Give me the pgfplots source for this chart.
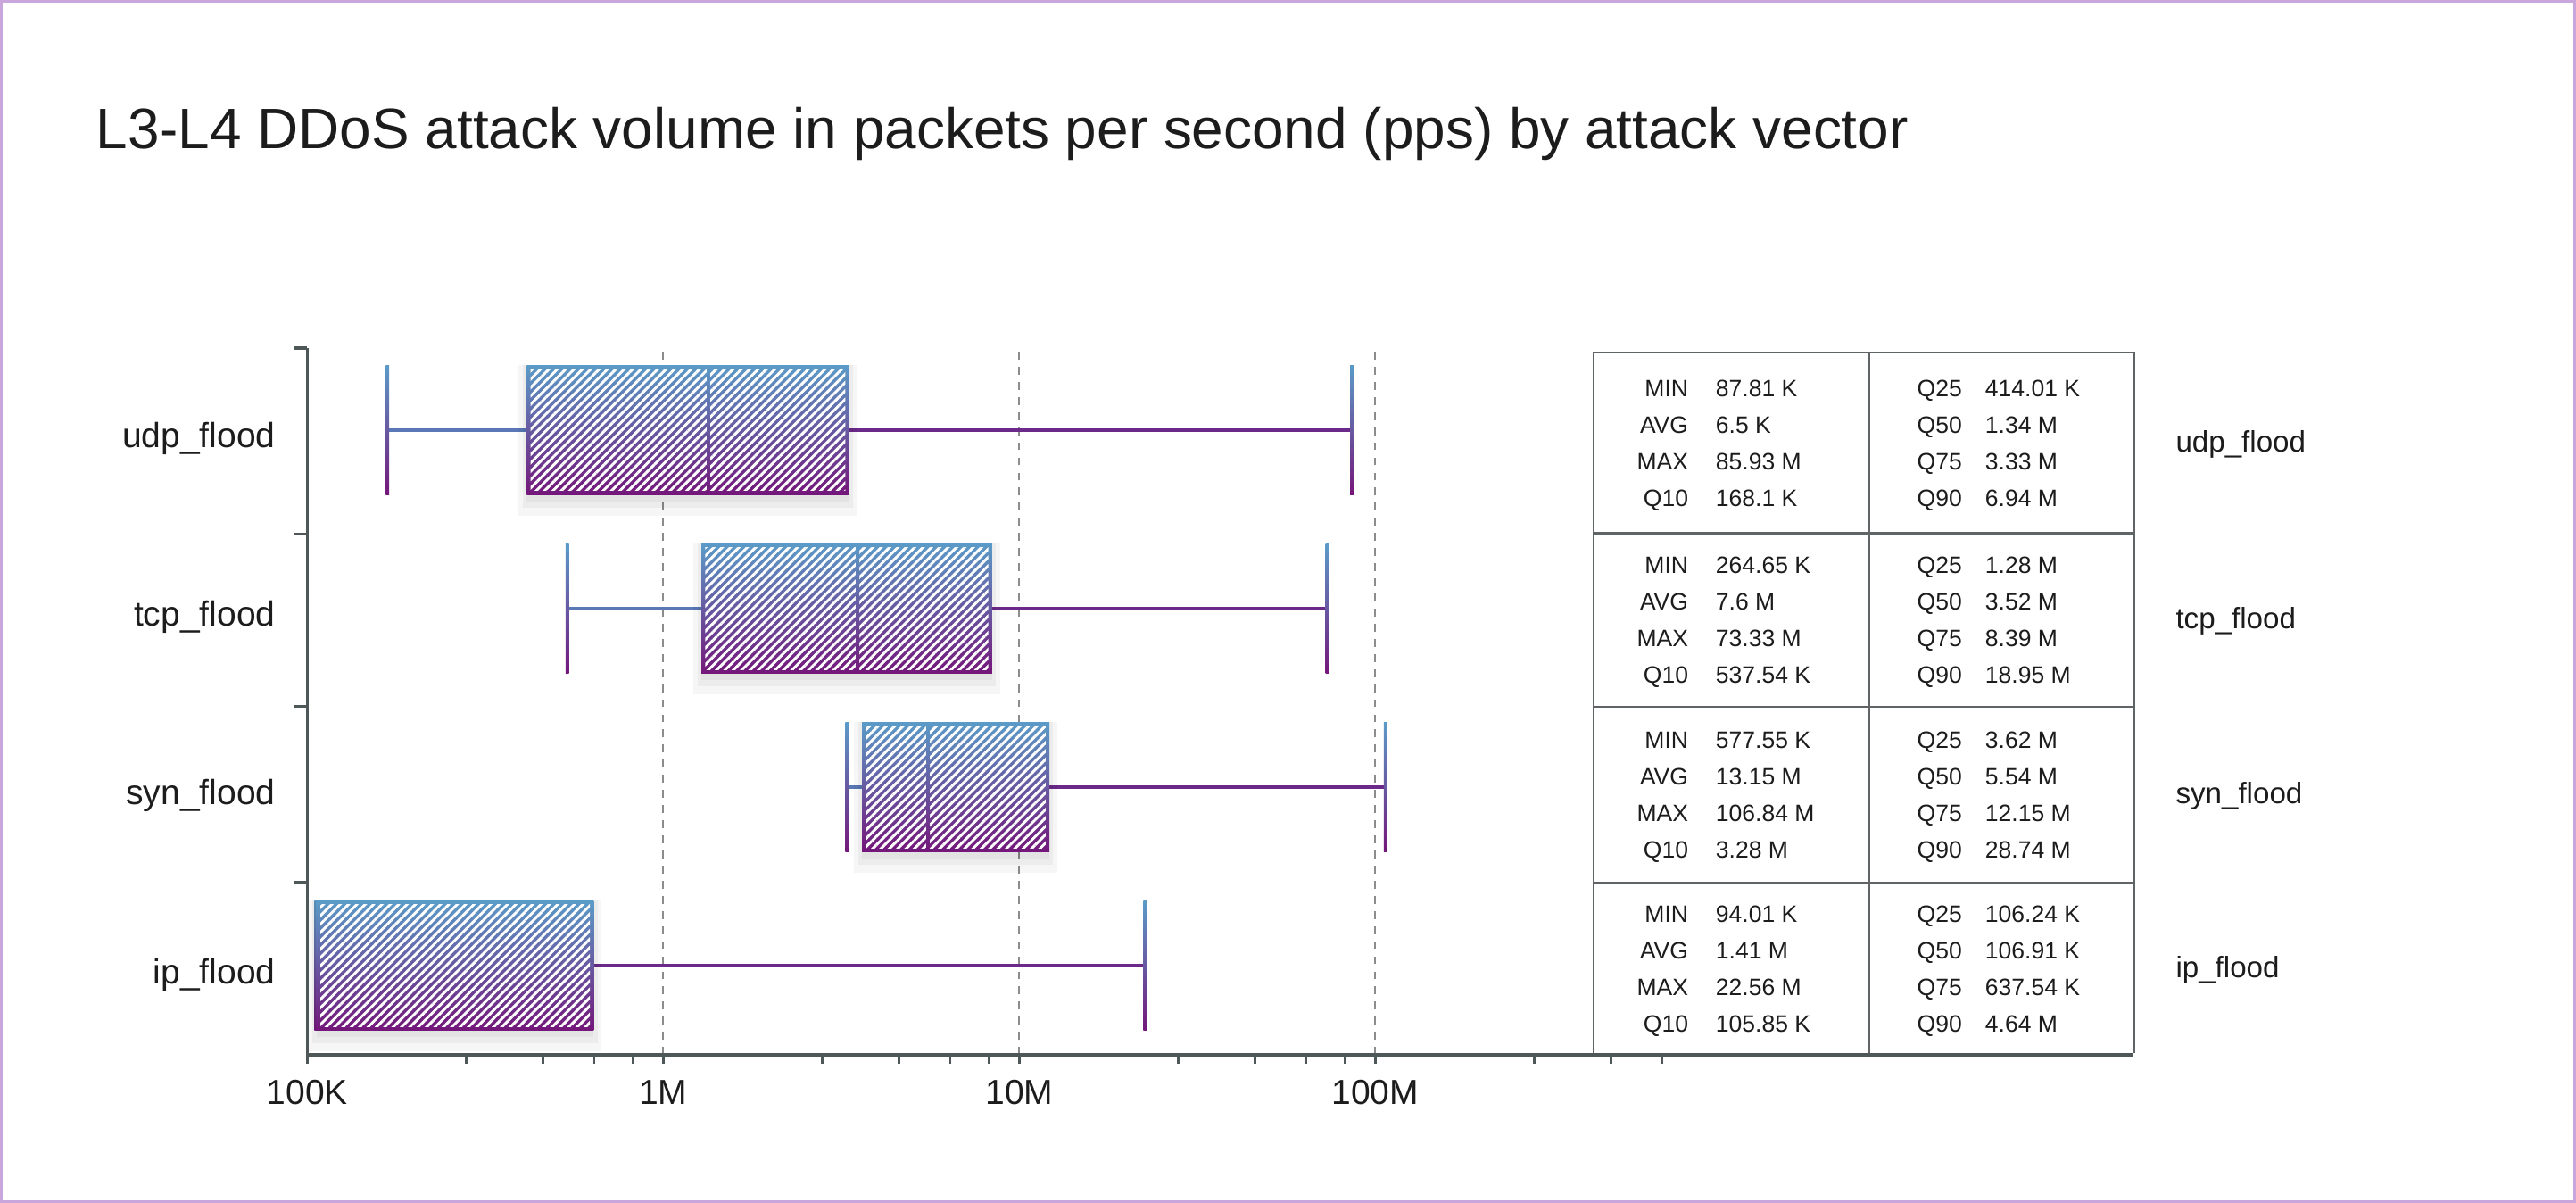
\documentclass[border=0pt]{standalone}
\usepackage{fontspec}
\setmainfont{Liberation Sans}
\usepackage{pgfplots}
\pgfplotsset{compat=1.18}
\usepgfplotslibrary{statistics}
\usetikzlibrary{patterns.meta}

\definecolor{ctop}{HTML}{5B9BC8}
\definecolor{cbot}{HTML}{74177A}
\definecolor{wlow}{HTML}{5A78B6}
\definecolor{whigh}{HTML}{6B2A8A}
\definecolor{axgray}{HTML}{4E5859}
\definecolor{tblgray}{HTML}{5F6566}
\definecolor{frame}{HTML}{C9A7DC}
\definecolor{txt}{HTML}{1C1C1C}

% box: gradient fill, white hatch on top, soft shadow below
\pgfplotsset{
  gradbox/.style={
    boxplot/draw direction=x,
    boxplot/box extend=0.725,
    boxplot/whisker extend=0.725,
    boxplot/draw/box/.code={%
      \fill[draw=none,black,opacity=0.035]
        ([xshift=-2.5pt,yshift=-6.5pt]boxplot box cs:\pgfplotsboxplotvalue{lower quartile},0)
        rectangle ([xshift=2.5pt]boxplot box cs:\pgfplotsboxplotvalue{upper quartile},1);
      \fill[draw=none,black,opacity=0.04]
        ([xshift=-1.2pt,yshift=-4pt]boxplot box cs:\pgfplotsboxplotvalue{lower quartile},0)
        rectangle ([xshift=1.2pt]boxplot box cs:\pgfplotsboxplotvalue{upper quartile},1);
      \fill[draw=none,black,opacity=0.04]
        ([yshift=-2pt]boxplot box cs:\pgfplotsboxplotvalue{lower quartile},0)
        rectangle (boxplot box cs:\pgfplotsboxplotvalue{upper quartile},1);
      \shade[draw=none,top color=ctop,bottom color=cbot]
        (boxplot box cs:\pgfplotsboxplotvalue{lower quartile},0)
        rectangle (boxplot box cs:\pgfplotsboxplotvalue{upper quartile},1);
      \fill[draw=none,pattern={Lines[angle=45,distance=1.8pt,line width=0.8pt]},pattern color=white]
        ([xshift=1.15pt,yshift=1.15pt]boxplot box cs:\pgfplotsboxplotvalue{lower quartile},0)
        rectangle ([xshift=-1.15pt,yshift=-1.15pt]boxplot box cs:\pgfplotsboxplotvalue{upper quartile},1);
    },
    boxplot/draw/median/.code={%
      \shade[draw=none,top color=ctop,bottom color=cbot]
        ([xshift=-0.5pt]boxplot box cs:\pgfplotsboxplotvalue{median},0)
        rectangle ([xshift=0.5pt]boxplot box cs:\pgfplotsboxplotvalue{median},1);
    },
    boxplot/draw/lower whisker/.code={%
      \draw[line width=1.1pt,wlow]
        (boxplot box cs:\pgfplotsboxplotvalue{lower whisker},0.5)
        -- (boxplot box cs:\pgfplotsboxplotvalue{lower quartile},0.5);
      \shade[draw=none,top color=ctop,bottom color=cbot]
        ([xshift=-0.5pt]boxplot whisker cs:\pgfplotsboxplotvalue{lower whisker},0)
        rectangle ([xshift=0.5pt]boxplot whisker cs:\pgfplotsboxplotvalue{lower whisker},1);
    },
    boxplot/draw/upper whisker/.code={%
      \draw[line width=1.1pt,whigh]
        (boxplot box cs:\pgfplotsboxplotvalue{upper quartile},0.5)
        -- (boxplot box cs:\pgfplotsboxplotvalue{upper whisker},0.5);
      \shade[draw=none,top color=ctop,bottom color=cbot]
        ([xshift=-0.5pt]boxplot whisker cs:\pgfplotsboxplotvalue{upper whisker},0)
        rectangle ([xshift=0.5pt]boxplot whisker cs:\pgfplotsboxplotvalue{upper whisker},1);
    },
  },
}

\newcommand{\tfont}{\fontsize{7.2}{8.6}\selectfont}
\tikzset{tl/.style={inner sep=0pt,font=\tfont,text=txt}}
% one table row: #1 = centre y (pt), #2-#5 MIN AVG MAX Q10, #6-#9 Q25 Q50 Q75 Q90
\newcommand{\statrow}[9]{%
  \node[tl,anchor=base east] at (420.5pt,#1pt+14pt) {MIN};
  \node[tl,anchor=base east] at (420.5pt,#1pt+2.9pt) {AVG};
  \node[tl,anchor=base east] at (420.5pt,#1pt-8.2pt) {MAX};
  \node[tl,anchor=base east] at (420.5pt,#1pt-19.3pt) {Q10};
  \node[tl,anchor=base west] at (428.5pt,#1pt+14pt) {#2};
  \node[tl,anchor=base west] at (428.5pt,#1pt+2.9pt) {#3};
  \node[tl,anchor=base west] at (428.5pt,#1pt-8.2pt) {#4};
  \node[tl,anchor=base west] at (428.5pt,#1pt-19.3pt) {#5};
  \node[tl,anchor=base east] at (503.8pt,#1pt+14pt) {Q25};
  \node[tl,anchor=base east] at (503.8pt,#1pt+2.9pt) {Q50};
  \node[tl,anchor=base east] at (503.8pt,#1pt-8.2pt) {Q75};
  \node[tl,anchor=base east] at (503.8pt,#1pt-19.3pt) {Q90};
  \node[tl,anchor=base west] at (510.5pt,#1pt+14pt) {#6};
  \node[tl,anchor=base west] at (510.5pt,#1pt+2.9pt) {#7};
  \node[tl,anchor=base west] at (510.5pt,#1pt-8.2pt) {#8};
  \node[tl,anchor=base west] at (510.5pt,#1pt-19.3pt) {#9};
}

\begin{document}
\begin{tikzpicture}
\useasboundingbox (-93.5pt,-45pt) rectangle (690.5pt,321pt);
\draw[frame,line width=0.8pt] (-93.1pt,-44.6pt) rectangle (690.1pt,320.6pt);

\node[anchor=base west,inner sep=0pt,font=\fontsize{17.35}{20}\selectfont,text=txt] at (-64.5pt,275.75pt)
  {L3-L4 DDoS attack volume in packets per second (pps) by attack vector};

\begin{axis}[
    at={(0,0)}, anchor=south west,
    scale only axis,
    width=555.5pt, height=215.1pt,
    xmode=log,
    xmin=1e5, xmax=1.34e10,
    ymin=0.5, ymax=4.458,
    axis x line*=bottom, axis y line*=left,
    x axis line style={line width=1.3pt,color=axgray},
    y axis line style={line width=0.7pt,color=axgray},
    xtick={1e5,1e6,1e7,1e8},
    xticklabels={100K,1M,10M,100M},
    minor xtick={2.8e5,4.6e5,6.4e5,8.2e5,2.8e6,4.6e6,6.4e6,8.2e6,2.8e7,4.6e7,6.4e7,8.2e7,2.8e8,4.6e8,6.4e8},
    tick align=outside,
    major tick length=2.7pt, minor tick length=2.7pt,
    xtick style={line width=0.7pt,color=axgray},
    ytick={1,2,3,4},
    yticklabels={ip\_flood,syn\_flood,tcp\_flood,udp\_flood},
    ytick style={draw=none},
    xmajorgrids,
    major grid style={color=gray!90,line width=0.5pt,dash pattern=on 2.4pt off 2.2pt},
    ticklabel style={font=\fontsize{10.6}{12}\selectfont,text=txt},
    yticklabel style={xshift=-3.5pt,yshift=-2.7pt},
    xticklabel style={yshift=-1.5pt},
    clip=false,
]
% udp_flood
\addplot[gradbox, boxplot prepared={draw position=4,
    lower whisker=168.1e3, lower quartile=414.01e3, median=1.34e6,
    upper quartile=3.33e6, upper whisker=85.93e6}] coordinates {};
% tcp_flood
\addplot[gradbox, boxplot prepared={draw position=3,
    lower whisker=537.54e3, lower quartile=1.28e6, median=3.52e6,
    upper quartile=8.39e6, upper whisker=73.33e6}] coordinates {};
% syn_flood
\addplot[gradbox, boxplot prepared={draw position=2,
    lower whisker=3.28e6, lower quartile=3.62e6, median=5.54e6,
    upper quartile=12.15e6, upper whisker=106.84e6}] coordinates {};
% ip_flood
\addplot[gradbox, boxplot prepared={draw position=1,
    lower whisker=105.85e3, lower quartile=106.24e3, median=106.91e3,
    upper quartile=637.54e3, upper whisker=22.56e6}] coordinates {};
\end{axis}

% category separators on the y axis
\foreach \yy in {52.6,106,158.5,215.1}
  \draw[line width=0.9pt,axgray] (0,\yy pt) -- (-4.2pt,\yy pt);

% stats table
\fill[white] (391.5pt,0.7pt) rectangle (556pt,213.7pt);
\draw[line width=0.6pt,tblgray] (391.5pt,0.6pt) -- (391.5pt,213.7pt) -- (556pt,213.7pt) -- (556pt,0.6pt);
\draw[line width=0.6pt,tblgray] (475.5pt,0.6pt) -- (475.5pt,213.7pt);
\foreach \yy in {52.5,106,158.75}
  \draw[line width=0.6pt,tblgray] (391.5pt,\yy pt) -- (556pt,\yy pt);

\statrow{186.2}{87.81 K}{6.5 K}{85.93 M}{168.1 K}{414.01 K}{1.34 M}{3.33 M}{6.94 M}
\statrow{132.4}{264.65 K}{7.6 M}{73.33 M}{537.54 K}{1.28 M}{3.52 M}{8.39 M}{18.95 M}
\statrow{79.25}{577.55 K}{13.15 M}{106.84 M}{3.28 M}{3.62 M}{5.54 M}{12.15 M}{28.74 M}
\statrow{26.25}{94.01 K}{1.41 M}{22.56 M}{105.85 K}{106.24 K}{106.91 K}{637.54 K}{4.64 M}

\node[inner sep=0pt,anchor=base west,font=\fontsize{9}{11}\selectfont,text=txt] at (568.5pt,183.5pt) {udp\_flood};
\node[inner sep=0pt,anchor=base west,font=\fontsize{9}{11}\selectfont,text=txt] at (568.5pt,129.7pt) {tcp\_flood};
\node[inner sep=0pt,anchor=base west,font=\fontsize{9}{11}\selectfont,text=txt] at (568.5pt,76.55pt) {syn\_flood};
\node[inner sep=0pt,anchor=base west,font=\fontsize{9}{11}\selectfont,text=txt] at (568.5pt,23.55pt) {ip\_flood};
\end{tikzpicture}
\end{document}
